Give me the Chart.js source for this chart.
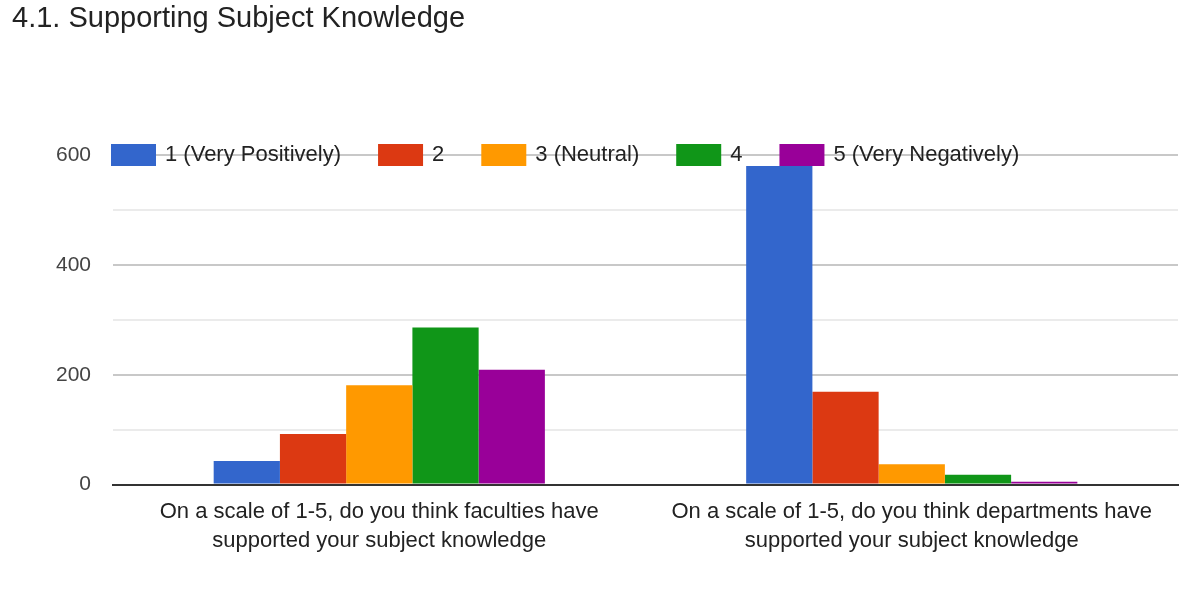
<!DOCTYPE html>
<html><head><meta charset="utf-8">
<script src="https://cdn.jsdelivr.net/npm/chart.js@4"></script>
<style>html,body{margin:0;padding:0;background:#fff}#w{width:1188px;height:598px;position:relative}</style>
</head><body><div id="w"><canvas id="c"></canvas></div>
<script>
const chartTitle = "4.1. Supporting Subject Knowledge";
const categories = [["On a scale of 1-5, do you think faculties have","supported your subject knowledge"],["On a scale of 1-5, do you think departments have","supported your subject knowledge"]];
const seriesNames = ["1 (Very Positively)","2","3 (Neutral)","4","5 (Very Negatively)"];
const seriesColors = ["#3366cc","#dc3912","#ff9900","#109618","#990099"];
const s1 = [43, 580];
const s2 = [92, 169];
const s3 = [181, 37];
const s4 = [286, 18];
const s5 = [209, 5];
const values = [s1,s2,s3,s4,s5];
const FONT = "'Liberation Sans', Arial, sans-serif";

const overlay = {
  id:'overlay',
  afterDraw(chart){
    const ctx = chart.ctx;
    ctx.save();
    ctx.fillStyle = '#222';
    ctx.font = '29px ' + FONT;
    ctx.textBaseline = 'middle';
    ctx.textAlign = 'left';
    ctx.fillText(chartTitle, 12, 19);
    const y = chart.scales.y.getPixelForValue(600);
    ctx.font = '22px ' + FONT;
    let x = 111;
    seriesNames.forEach((n,i)=>{
      ctx.fillStyle = seriesColors[i];
      ctx.fillRect(x, y-11, 45, 22);
      x += 54;
      ctx.fillStyle = '#222';
      ctx.fillText(n, x, y);
      x += ctx.measureText(n).width + 37;
    });
    ctx.restore();
  }
};

new Chart(document.getElementById('c'), {
  type:'bar',
  data:{labels:categories, datasets: seriesNames.map((n,i)=>({label:n, data:values[i], backgroundColor:seriesColors[i], borderWidth:0}))},
  options:{
    responsive:true, maintainAspectRatio:false, animation:false,
    layout:{padding:{top:155,right:10,left:34,bottom:30}},
    datasets:{bar:{categoryPercentage:0.622, barPercentage:1}},
    plugins:{legend:{display:false}, title:{display:false}, tooltip:{enabled:false}},
    scales:{
      x:{grid:{display:false, drawTicks:false}, border:{color:'#333', width:2},
         ticks:{color:'#222', font:{family:FONT, size:22, lineHeight:1.35}, padding:12, maxRotation:0}},
      y:{min:0, max:600, ticks:{stepSize:100, color:'#444', padding:22, font:{family:FONT,size:21},
           callback:v=> v%200===0 ? v : ''},
         border:{display:false},
         grid:{drawTicks:false, color:ctx=> ctx.tick && ctx.tick.value%200===0 ? '#c8c8c8' : '#ebebeb', lineWidth:2}}
    }
  },
  plugins:[overlay]
});
</script></body></html>
